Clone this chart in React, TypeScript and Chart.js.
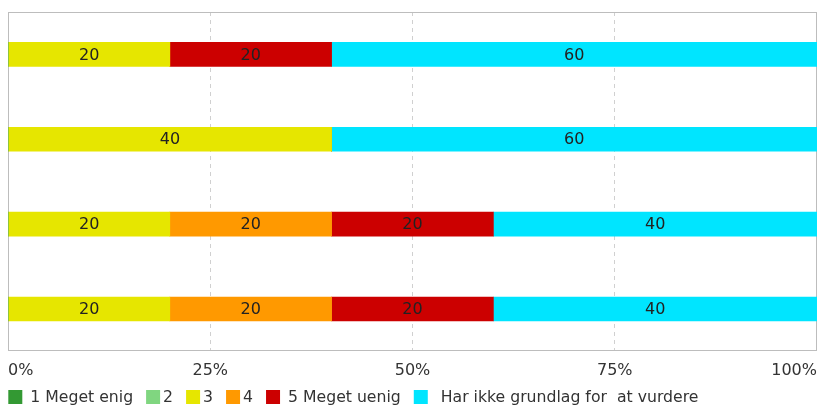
import React, { useEffect, useRef } from "react";
import { Chart, registerables } from "chart.js";

Chart.register(...registerables);

const categories = ["A", "B", "C", "D"];
const seriesNames = [" 1 Meget enig", "2", "3", "4", " 5 Meget uenig", "  Har ikke grundlag for  at vurdere"];
const s1 = [0, 0, 0, 0];
const s2 = [0, 0, 0, 0];
const s3 = [20, 40, 20, 20];
const s4 = [0, 0, 20, 20];
const s5 = [20, 0, 20, 20];
const s6 = [60, 60, 40, 40];
const tickLabels = ["0%", "25%", "50%", "75%", "100%"];
const colors = ["#339933", "#80d680", "#e6e600", "#ff9900", "#cc0000", "#00e5ff"];

const FONT = "'DejaVu Sans', Verdana, sans-serif";

const framePlugin = {
  id: "frame",
  beforeDatasetsDraw(chart: any) {
    const { ctx, chartArea } = chart;
    ctx.save();
    ctx.strokeStyle = "#bdbdbd";
    ctx.lineWidth = 1;
    ctx.strokeRect(Math.round(chartArea.left) + 0.5, Math.round(chartArea.top) + 0.5, Math.round(chartArea.right - chartArea.left) - 1, Math.round(chartArea.bottom - chartArea.top) - 1);
    ctx.restore();
  },
};

const labelPlugin = {
  id: "barLabels",
  afterDatasetsDraw(chart: any) {
    const { ctx } = chart;
    ctx.save();
    ctx.font = `16px ${FONT}`;
    ctx.fillStyle = "#222222";
    ctx.textAlign = "center";
    ctx.textBaseline = "middle";
    chart.data.datasets.forEach((ds: any, i: number) => {
      const meta = chart.getDatasetMeta(i);
      meta.data.forEach((bar: any, j: number) => {
        const v = ds.data[j];
        if (!v) return;
        const cx = (bar.x + bar.base) / 2;
        ctx.fillText(String(v), cx, bar.y + 1);
      });
    });
    ctx.restore();
  },
};

const legendPlugin = {
  id: "boxLegend",
  afterDraw(chart: any) {
    const { ctx } = chart;
    const box = 14;
    const gap = 3;
    const spacing = 13;
    const yc = chart.height - 11;
    let x = 8.3;
    ctx.save();
    ctx.font = `15.7px ${FONT}`;
    ctx.textAlign = "left";
    ctx.textBaseline = "middle";
    chart.data.datasets.forEach((ds: any) => {
      ctx.fillStyle = ds.backgroundColor;
      ctx.fillRect(x, yc - box / 2, box, box);
      ctx.fillStyle = "#333333";
      ctx.fillText(ds.label, x + box + gap, yc + 1);
      x += box + gap + ctx.measureText(ds.label).width + spacing;
    });
    ctx.restore();
  },
};

export default function App() {
  const ref = useRef<HTMLCanvasElement>(null);
  useEffect(() => {
    if (!ref.current) return;
    const all = [s1, s2, s3, s4, s5, s6];
    const chart = new Chart(ref.current, {
      type: "bar",
      data: {
        labels: categories,
        datasets: all.map((d, i) => ({
          label: seriesNames[i],
          data: d,
          backgroundColor: colors[i],
          borderWidth: 0,
          barThickness: 24,
        })),
      },
      options: {
        indexAxis: "y",
        animation: false,
        responsive: true,
        maintainAspectRatio: false,
        layout: { padding: { left: 8, right: 3, top: 12, bottom: 27.4 } },
        plugins: {
          legend: { display: false },
          tooltip: { enabled: false },
        },
        scales: {
          x: {
            stacked: true,
            min: 0,
            max: 100,
            border: { display: false, dash: [4, 4] },
            grid: {
              color: (c: any) => (c.index === 0 || c.index === 4 ? "rgba(0,0,0,0)" : "#d0d0d0"),
              drawTicks: true,
              tickLength: 10,
              tickColor: "rgba(0,0,0,0)",
            } as any,
            ticks: {
              stepSize: 25,
              align: "inner",
              padding: 0,
              color: "#333333",
              font: { family: FONT, size: 16 },
              callback: (_v: any, i: number) => tickLabels[i],
            },
          },
          y: {
            stacked: true,
            display: false,
          },
        },
      },
      plugins: [framePlugin, labelPlugin, legendPlugin],
    });
    return () => chart.destroy();
  }, []);
  return (
    <div style={{ position: "fixed", left: 0, top: 0, width: 820, height: 408, background: "#fff" }}>
      <canvas ref={ref} />
    </div>
  );
}
